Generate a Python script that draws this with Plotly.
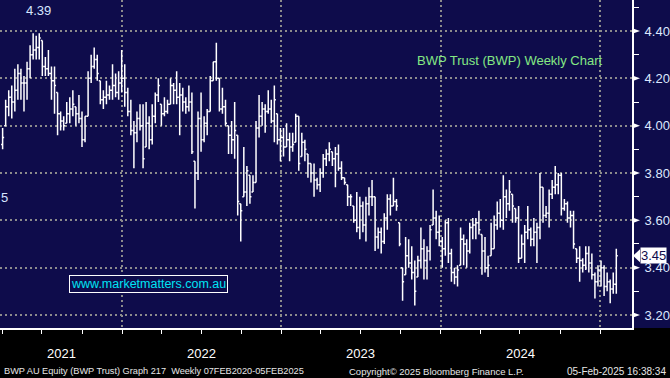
import pandas as pd
import plotly.graph_objects as go

# ---------------- data (weekly OHLC) ----------------
opens = [3.92,4.00,4.08,4.12,4.10,4.15,4.22,4.18,4.18,4.24,4.30,4.32,4.33,4.36,4.25,4.24,4.22,4.19,4.14,4.05,
         4.02,4.01,4.05,4.07,4.08,4.05,4.03,3.94,4.04,4.20,4.25,4.28,4.19,4.11,4.12,4.13,4.15,4.17,4.14,4.18,
         4.20,4.14,4.06,3.98,3.97,4.03,4.00,3.91,4.01,3.94,4.04,4.13,
         4.09,4.05,4.06,4.09,4.17,4.15,4.12,4.13,4.10,4.08,4.10,3.85,3.80,4.03,3.94,4.01,4.06,4.19,4.27,4.20,
         4.07,4.08,4.00,3.96,3.94,3.96,3.67,3.70,3.72,3.79,3.72,3.76,3.99,4.04,4.07,4.06,4.07,4.02,4.05,3.94,
         3.95,3.91,3.94,3.91,3.93,4.04,3.87,3.93,3.88,3.84,3.80,
         3.77,3.75,3.80,3.86,3.88,3.89,3.86,3.88,3.82,3.78,3.75,3.70,3.66,3.60,3.57,3.66,3.58,3.67,3.70,3.70,
         3.53,3.55,3.51,3.61,3.69,3.66,3.68,3.59,3.40,3.37,3.45,3.42,3.38,3.36,3.43,3.48,3.43,3.47,3.58,3.61,
         3.55,3.51,3.48,3.59,3.46,3.38,3.36,3.41,3.52,3.50,
         3.47,3.57,3.58,3.59,3.54,3.47,3.40,3.45,3.48,3.58,3.63,3.60,3.70,3.67,3.71,3.65,3.61,3.44,3.50,3.55,
         3.56,3.52,3.55,3.57,3.74,3.62,3.63,3.71,3.74,3.75,3.79,3.65,3.67,3.61,3.62,3.48,3.44,3.43,3.41,3.46,
         3.42,3.37,3.34,3.39,3.40,3.32,3.34,3.31,3.33]
highs = [3.99,4.11,4.15,4.17,4.24,4.26,4.24,4.21,4.27,4.34,4.39,4.38,4.39,4.36,4.29,4.32,4.25,4.25,4.14,4.06,
         4.04,4.10,4.12,4.15,4.08,4.13,4.06,4.04,4.23,4.30,4.33,4.30,4.19,4.15,4.19,4.17,4.26,4.22,4.23,4.32,
         4.26,4.16,4.11,4.02,4.06,4.09,4.09,4.10,4.04,4.09,4.14,4.20,
         4.09,4.12,4.11,4.20,4.18,4.23,4.18,4.16,4.12,4.17,4.14,3.85,4.06,4.14,4.04,4.07,4.21,4.27,4.35,4.20,
         4.16,4.11,4.00,4.02,4.10,3.96,3.67,3.91,3.83,3.79,3.79,4.02,4.13,4.10,4.09,4.15,4.11,4.17,4.05,3.99,
         3.99,4.01,3.97,3.97,4.05,4.04,3.97,3.94,3.88,3.84,3.84,
         3.78,3.82,3.88,3.90,3.93,3.89,3.91,3.92,3.85,3.78,3.75,3.71,3.66,3.72,3.70,3.68,3.70,3.74,3.77,3.70,
         3.57,3.57,3.63,3.71,3.71,3.78,3.69,3.59,3.40,3.53,3.52,3.49,3.43,3.45,3.57,3.52,3.49,3.58,3.73,3.64,
         3.62,3.53,3.60,3.61,3.48,3.40,3.41,3.57,3.54,3.52,
         3.59,3.61,3.61,3.64,3.54,3.53,3.45,3.59,3.62,3.68,3.69,3.79,3.73,3.77,3.71,3.65,3.66,3.54,3.58,3.66,
         3.57,3.61,3.59,3.80,3.74,3.66,3.73,3.77,3.83,3.80,3.80,3.69,3.68,3.64,3.64,3.48,3.49,3.44,3.49,3.49,
         3.46,3.38,3.41,3.43,3.41,3.38,3.35,3.38,3.48]
lows = [3.90,4.00,4.04,4.03,4.06,4.11,4.11,4.06,4.11,4.20,4.28,4.28,4.28,4.21,4.21,4.21,4.11,4.05,3.96,3.98,
        3.98,4.01,4.01,4.04,4.00,4.01,3.91,3.93,4.04,4.18,4.24,4.19,4.09,4.07,4.09,4.11,4.11,4.12,4.11,4.14,
        4.08,4.04,3.96,3.82,3.93,3.98,3.82,3.91,3.90,3.92,4.01,4.10,
        4.00,4.04,4.05,4.09,4.09,4.09,3.96,4.06,4.05,4.06,3.88,3.65,3.77,3.89,3.93,3.96,4.06,4.19,4.19,4.06,
        4.05,4.00,3.88,3.88,3.86,3.62,3.51,3.70,3.66,3.67,3.72,3.76,3.95,4.00,3.97,4.05,4.01,3.93,3.92,3.85,
        3.87,3.91,3.85,3.89,3.93,3.81,3.87,3.85,3.78,3.76,3.70,
        3.73,3.72,3.78,3.83,3.85,3.83,3.74,3.81,3.77,3.75,3.66,3.66,3.59,3.55,3.52,3.55,3.51,3.62,3.66,3.47,
        3.48,3.46,3.50,3.56,3.62,3.66,3.64,3.49,3.26,3.37,3.40,3.35,3.24,3.36,3.40,3.35,3.35,3.43,3.58,3.52,
        3.49,3.40,3.45,3.42,3.34,3.33,3.32,3.41,3.41,3.40,
        3.46,3.52,3.52,3.54,3.37,3.38,3.36,3.45,3.48,3.56,3.57,3.56,3.61,3.64,3.59,3.59,3.42,3.44,3.42,3.52,
        3.49,3.49,3.42,3.52,3.59,3.61,3.57,3.69,3.71,3.71,3.62,3.64,3.59,3.57,3.48,3.42,3.34,3.38,3.39,3.38,
        3.35,3.27,3.32,3.32,3.28,3.30,3.25,3.29,3.29]
closes = [3.95,4.08,4.12,4.10,4.15,4.22,4.18,4.18,4.24,4.30,4.32,4.33,4.37,4.25,4.24,4.22,4.19,4.17,4.05,4.02,
          4.00,4.05,4.07,4.09,4.05,4.03,3.94,4.04,4.20,4.25,4.28,4.22,4.11,4.12,4.13,4.15,4.17,4.14,4.18,4.20,
          4.14,4.06,3.98,3.97,4.03,4.00,3.86,4.01,3.94,4.04,4.13,4.17,
          4.05,4.06,4.09,4.17,4.15,4.12,4.13,4.10,4.08,4.10,3.89,3.80,4.03,3.94,4.01,4.06,4.19,4.27,4.20,4.07,
          4.08,4.01,3.96,3.94,3.98,3.68,3.64,3.72,3.81,3.70,3.76,3.99,4.04,4.07,4.06,4.07,4.02,4.11,3.94,3.95,
          3.91,3.94,3.91,3.92,4.04,3.84,3.93,3.90,3.84,3.80,3.77,
          3.75,3.80,3.86,3.88,3.90,3.86,3.88,3.82,3.78,3.76,3.70,3.70,3.60,3.57,3.66,3.58,3.67,3.70,3.70,3.53,
          3.55,3.51,3.61,3.69,3.66,3.68,3.66,3.50,3.34,3.45,3.42,3.38,3.30,3.43,3.48,3.43,3.47,3.56,3.61,3.55,
          3.51,3.48,3.59,3.46,3.38,3.36,3.39,3.52,3.50,3.47,
          3.57,3.58,3.59,3.56,3.47,3.40,3.41,3.48,3.58,3.63,3.60,3.70,3.67,3.72,3.66,3.61,3.44,3.50,3.55,3.56,
          3.52,3.55,3.57,3.74,3.62,3.63,3.71,3.74,3.75,3.79,3.65,3.67,3.61,3.62,3.50,3.44,3.43,3.41,3.46,3.42,
          3.37,3.34,3.39,3.40,3.32,3.34,3.31,3.33,3.45]

first_week = "2021-04-02"  # weekly bars (Fridays) through 07-Feb-2025
dates = pd.date_range(first_week, periods=len(closes), freq="W-FRI")

year_starts = ["2022-01-01", "2023-01-01", "2024-01-01", "2025-01-01"]
year_labels = ["2021", "2022", "2023", "2024"]
year_label_dates = ["2021-08-14", "2022-07-02", "2023-07-02", "2024-07-02"]
quarter_starts = [d.strftime("%Y-%m-%d") for d in pd.date_range("2021-04-01", "2025-01-01", freq="QS")]

price_ticks = [3.20, 3.40, 3.60, 3.80, 4.00, 4.20, 4.40]
price_minor = [3.30, 3.50, 3.70, 3.90, 4.10, 4.30, 4.50]
last_price = 3.45
high_label = "4.39"

NAVY = "#0e0c4b"
GRID = "#8c8c8c"
FONT = "Liberation Sans, Arial, sans-serif"

W, H = 670, 378
ML, MR, MT, MB = 0, 38, 0, 50
PW = W - ML - MR
PH = H - MT - MB

fig = go.Figure(go.Ohlc(
    x=dates, open=opens, high=highs, low=lows, close=closes,
    increasing=dict(line=dict(color="white", width=1.5)),
    decreasing=dict(line=dict(color="white", width=1.5)),
    tickwidth=0.5, hoverinfo="skip",
))

yr = [3.145, 4.531]

fig.update_layout(
    width=W, height=H,
    margin=dict(l=ML, r=MR, t=MT, b=MB),
    paper_bgcolor=NAVY, plot_bgcolor=NAVY,
    showlegend=False, hovermode=False,
    font=dict(family=FONT, color="white"),
    xaxis=dict(
        type="date", range=["2021-03-27", "2025-03-15"],
        rangeslider=dict(visible=False),
        tickmode="array", tickvals=year_starts, ticktext=[""] * len(year_starts),
        ticks="outside", ticklen=34, tickwidth=1, tickcolor="#8a8a8a",
        showgrid=True, gridcolor=GRID, gridwidth=2, griddash="2px,3px",
        showline=True, linecolor="white", linewidth=2,
        zeroline=False, fixedrange=True,
        minor=dict(tickmode="array", tickvals=quarter_starts, ticks="outside",
                   ticklen=4, tickwidth=1, tickcolor="white", showgrid=False),
    ),
    yaxis=dict(
        side="right", range=yr,
        tickmode="array", tickvals=price_ticks,
        ticktext=[f"{v:.2f}" for v in price_ticks],
        ticks="outside", ticklen=8, tickcolor=NAVY, tickwidth=1,
        tickfont=dict(size=13, color="#dde8ff", family=FONT),
        showgrid=True, gridcolor=GRID, gridwidth=2, griddash="2px,3px",
        showline=True, linecolor="white", linewidth=2,
        zeroline=False, fixedrange=True,
        minor=dict(tickmode="array", tickvals=price_minor, ticks="outside",
                   ticklen=5, tickwidth=1, tickcolor="white", showgrid=False),
    ),
)

shapes = []
# black strip under the plot
shapes.append(dict(type="rect", xref="paper", yref="paper",
                   x0=-0.01, x1=W / PW + 0.01, y0=-MB / PH - 0.01, y1=0,
                   fillcolor="black", line=dict(width=0), layer="below"))
# triangles at price ticks
tri_w = 8 / PW
tri_h = 2.6 / PH * (yr[1] - yr[0])
for v in price_ticks:
    shapes.append(dict(type="path", xref="paper", yref="y",
                       path=f"M 1.0015,{v - tri_h} L 1.0015,{v + tri_h} L {1 + tri_w},{v} Z",
                       fillcolor="white", line=dict(width=0), layer="above"))
# last price tag pointer
tag_h = 6.5 / PH * (yr[1] - yr[0])
shapes.append(dict(type="path", xref="paper", yref="y",
                   path=f"M {1 + 1/PW},{last_price} L {1 + 8/PW},{last_price + tag_h} "
                        f"L {1 + 8/PW},{last_price - tag_h} Z",
                   fillcolor="white", line=dict(width=0), layer="above"))
fig.update_layout(shapes=shapes)

def px_x(px):
    return (px - ML) / PW

def px_y(py):
    return (PH - (py - MT)) / PH

ann = []
for lab, d in zip(year_labels, year_label_dates):
    ann.append(dict(x=d, xref="x", y=px_y(353), yref="paper", text=lab, showarrow=False,
                    font=dict(size=13, color="white", family=FONT), xanchor="center", yanchor="middle"))

ann.append(dict(x=px_x(510), y=px_y(60), xref="paper", yref="paper",
                text="BWP Trust (BWP) Weekly Chart", showarrow=False,
                font=dict(size=13, color="#84e884", family=FONT), xanchor="center", yanchor="middle"))
ann.append(dict(x=px_x(38), y=px_y(10), xref="paper", yref="paper", text=high_label, showarrow=False,
                font=dict(size=13, color="#d6e6ff", family=FONT), xanchor="center", yanchor="middle"))
ann.append(dict(x=px_x(-1), y=px_y(197), xref="paper", yref="paper", text="5", showarrow=False,
                font=dict(size=13, color="#d6e6ff", family=FONT), xanchor="left", yanchor="middle"))
ann.append(dict(x=px_x(148.5), y=px_y(284), xref="paper", yref="paper",
                text="www.marketmatters.com.au", showarrow=False,
                font=dict(size=12.5, color="#00e4f4", family=FONT),
                bordercolor="white", borderwidth=1, borderpad=1, bgcolor=NAVY,
                xanchor="center", yanchor="middle"))
ann.append(dict(x=px_x(640), y=last_price, xref="paper", yref="y", text=f"{last_price:.2f}",
                showarrow=False, font=dict(size=13, color=NAVY, family=FONT),
                bgcolor="white", borderpad=0, xanchor="left", yanchor="middle"))
ann.append(dict(x=px_x(2), y=px_y(371), xref="paper", yref="paper",
                text="BWP AU Equity (BWP Trust) Graph 217  Weekly 07FEB2020-05FEB2025",
                showarrow=False, font=dict(size=9.2, color="#e6e6e6", family=FONT),
                xanchor="left", yanchor="middle"))
ann.append(dict(x=px_x(436.5), y=px_y(371), xref="paper", yref="paper",
                text="Copyright\u00a9 2025 Bloomberg Finance L.P.",
                showarrow=False, font=dict(size=9.5, color="#e6e6e6", family=FONT),
                xanchor="center", yanchor="middle"))
ann.append(dict(x=px_x(668), y=px_y(371), xref="paper", yref="paper",
                text="05-Feb-2025 16:38:34",
                showarrow=False, font=dict(size=10, color="#e6e6e6", family=FONT),
                xanchor="right", yanchor="middle"))
fig.update_layout(annotations=ann)

fig.write_html("out.html", config={"displayModeBar": False},
               post_script="document.body.style.margin='0';document.body.style.padding='0';"
                           "document.body.style.overflow='hidden';")
